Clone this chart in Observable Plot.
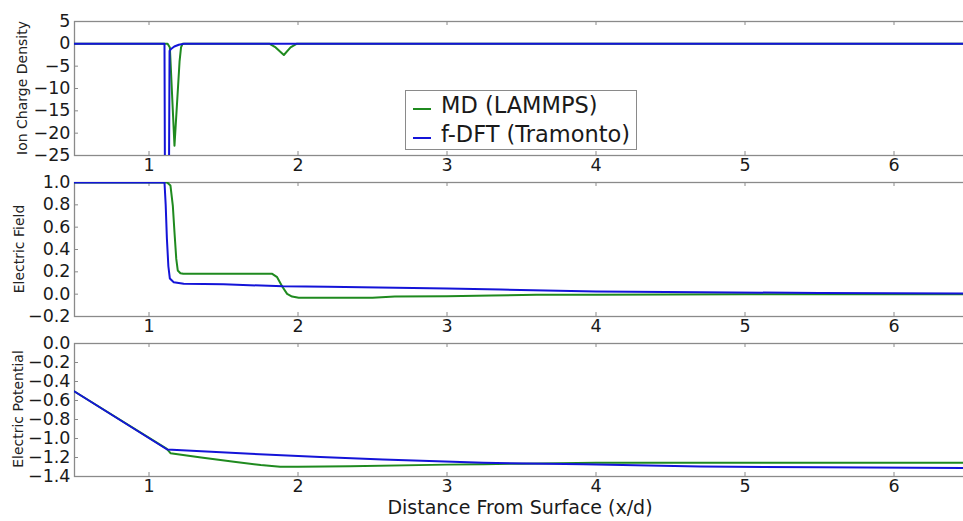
<!DOCTYPE html>
<html>
<head>
<meta charset="utf-8">
<script src="https://cdn.jsdelivr.net/npm/d3@7"></script>
<script src="https://cdn.jsdelivr.net/npm/@observablehq/plot@0.6"></script>
<style>
  html, body { margin: 0; padding: 0; background: #fff; }
  #chart { position: relative; width: 963px; height: 521px; overflow: hidden; background: #fff;
           font-family: "DejaVu Sans", sans-serif; color: #1a1a1a; }
  #chart svg { position: absolute; left: 0; }
  .ylab { position: absolute; font-size: 14px; white-space: nowrap; color: #222;
          transform: translate(-50%, -50%) rotate(-90deg); }
  .xtitle { position: absolute; font-size: 19px; white-space: nowrap; transform: translate(-50%, -50%); }
  .legend { position: absolute; left: 405px; top: 90px; width: 230px; height: 58px;
            border: 1px solid #8a8a8a; background: #fff; z-index: 5; }
  .legend .item { position: absolute; left: 0; height: 28px; font-size: 22.5px; line-height: 28px; white-space: nowrap; }
  .legend .swatch { position: absolute; left: 7px; width: 18px; height: 0; border-top: 2px solid; }
  .legend .name { position: absolute; left: 35px; top: 0; }
</style>
</head>
<body>
<div id="chart"></div>
<script>
// Shared x (distance from surface, x/d)
const xTicks = [1, 2, 3, 4, 5, 6];
const xDomain = [0.5, 6.5];

// Ion charge density
const qTicks = [5, 0, -5, -10, -15, -20, -25];
const mdQX  = [0.5, 1.125, 1.14, 1.171, 1.205, 1.215, 1.225, 1.81, 1.85, 1.905, 1.95, 1.99, 6.5];
const mdQ   = [0, 0, -0.8, -22.8, -4, -0.8, 0, 0, -0.8, -2.5, -0.8, 0, 0];
const dftQX = [0.5, 1.104, 1.11, 1.13, 1.138, 1.15, 1.17, 1.2, 1.235, 6.5];
const dftQ  = [0, 0, -60, -60, -1.6, -1.1, -0.6, -0.2, 0, 0];

// Electric field
const eTicks = [1.0, 0.8, 0.6, 0.4, 0.2, 0.0, -0.2];
const mdEX  = [0.5, 1.122, 1.144, 1.16, 1.171, 1.183, 1.193, 1.211, 1.23, 1.827, 1.86, 1.894, 1.927, 1.96, 2.005,
               2.5, 2.65, 3.0, 3.3, 3.6, 4.0, 5.0, 6.5];
const mdE   = [1.0, 1.0, 0.973, 0.79, 0.555, 0.316, 0.212, 0.188, 0.182, 0.182, 0.152, 0.069, 0.003, -0.021, -0.033,
               -0.032, -0.02, -0.018, -0.012, -0.006, -0.005, 0.0, 0.0];
const dftEX = [0.5, 1.104, 1.112, 1.12, 1.13, 1.14, 1.166, 1.233, 1.5, 1.9, 2.2, 3.0, 3.36, 4.0, 4.7, 5.5, 6.5];
const dftE  = [1.0, 1.0, 0.8, 0.5, 0.25, 0.14, 0.107, 0.093, 0.088, 0.07, 0.066, 0.05, 0.042, 0.024, 0.018, 0.01, 0.005];

// Electric potential
const pTicks = [0.0, -0.2, -0.4, -0.6, -0.8, -1.0, -1.2, -1.4];
const mdPX  = [0.5, 1.12, 1.144, 1.35, 1.57, 1.75, 1.88, 2.0, 2.35, 3.0, 3.245, 3.5, 4.0, 5.0, 6.5];
const mdP   = [-0.505, -1.11, -1.155, -1.2, -1.245, -1.28, -1.298, -1.298, -1.291, -1.275, -1.27, -1.265, -1.256, -1.255, -1.255];
const dftPX = [0.5, 1.122, 1.68, 2.15, 2.57, 3.245, 3.916, 4.7, 5.5, 6.5];
const dftP  = [-0.505, -1.116, -1.161, -1.196, -1.22, -1.256, -1.27, -1.295, -1.303, -1.31];

const series = [
  {name: "MD (LAMMPS)", color: "#1f8a1f"},
  {name: "f-DFT (Tramonto)", color: "#1414d8"}
];

const rows = (xs, ys) => xs.map((x, i) => ({x, y: ys[i]}));
const FRAME = "#8a8a8a";
const W = 963, ML = 74, MR = -5;

function panel({top, height, marginTop, marginBottom, yDomain, yTicks, yFormat, md, dft}) {
  const plotH = height - marginTop - marginBottom;
  const plotW = W - ML - MR;
  const svg = Plot.plot({
    width: W, height, marginLeft: ML, marginRight: MR, marginTop, marginBottom,
    style: {fontFamily: "DejaVu Sans, sans-serif", fontSize: "17.5px", background: "transparent",
            overflow: "visible", color: "#1a1a1a"},
    x: {domain: xDomain, label: null},
    y: {domain: yDomain, label: null},
    marks: [
      Plot.frame({stroke: FRAME, strokeWidth: 1.3}),
      Plot.tickX(xTicks, {x: d => d, stroke: FRAME, insetTop: plotH - 4}),
      Plot.tickX(xTicks, {x: d => d, stroke: FRAME, insetBottom: plotH - 4}),
      Plot.tickY(yTicks, {y: d => d, stroke: FRAME, insetRight: plotW - 4}),
      Plot.axisX(xTicks, {tickSize: 0, tickPadding: 3, tickFormat: d => String(d), label: null}),
      Plot.axisY(yTicks, {tickSize: 0, tickPadding: 4, tickFormat: yFormat, label: null}),
      Plot.line(md, {x: "x", y: "y", stroke: series[0].color, strokeWidth: 2, clip: true}),
      Plot.line(dft, {x: "x", y: "y", stroke: series[1].color, strokeWidth: 2, clip: true})
    ]
  });
  svg.style.top = top + "px";
  return svg;
}

const chart = document.getElementById("chart");
const f1 = d3.format(".1f");
const fInt = d3.format("d");

chart.appendChild(panel({top: 0, height: 178, marginTop: 21, marginBottom: 23,
  yDomain: [-25, 5], yTicks: qTicks, yFormat: fInt, md: rows(mdQX, mdQ), dft: rows(dftQX, dftQ)}));
chart.appendChild(panel({top: 178, height: 160, marginTop: 4, marginBottom: 22,
  yDomain: [-0.2, 1.0], yTicks: eTicks, yFormat: f1, md: rows(mdEX, mdE), dft: rows(dftEX, dftE)}));
chart.appendChild(panel({top: 338, height: 160, marginTop: 5, marginBottom: 22,
  yDomain: [-1.4, 0.0], yTicks: pTicks, yFormat: f1, md: rows(mdPX, mdP), dft: rows(dftPX, dftP)}));

// Axis titles
const ylabels = [
  {text: "Ion Charge Density", x: 22, y: 88},
  {text: "Electric Field", x: 19, y: 249},
  {text: "Electric Potential", x: 18, y: 409}
];
for (const l of ylabels) {
  const d = document.createElement("div");
  d.className = "ylab";
  d.textContent = l.text;
  d.style.left = l.x + "px";
  d.style.top = l.y + "px";
  chart.appendChild(d);
}
const xt = document.createElement("div");
xt.className = "xtitle";
xt.textContent = "Distance From Surface (x/d)";
xt.style.left = "520px";
xt.style.top = "507px";
chart.appendChild(xt);

// Legend
const legend = document.createElement("div");
legend.className = "legend";
series.forEach((s, i) => {
  const item = document.createElement("div");
  item.className = "item";
  item.style.top = (0 + i * 29) + "px";
  const sw = document.createElement("div");
  sw.className = "swatch";
  sw.style.borderTopColor = s.color;
  sw.style.top = "17px";
  const nm = document.createElement("div");
  nm.className = "name";
  nm.textContent = s.name;
  item.appendChild(sw);
  item.appendChild(nm);
  legend.appendChild(item);
});
chart.appendChild(legend);
</script>
</body>
</html>
